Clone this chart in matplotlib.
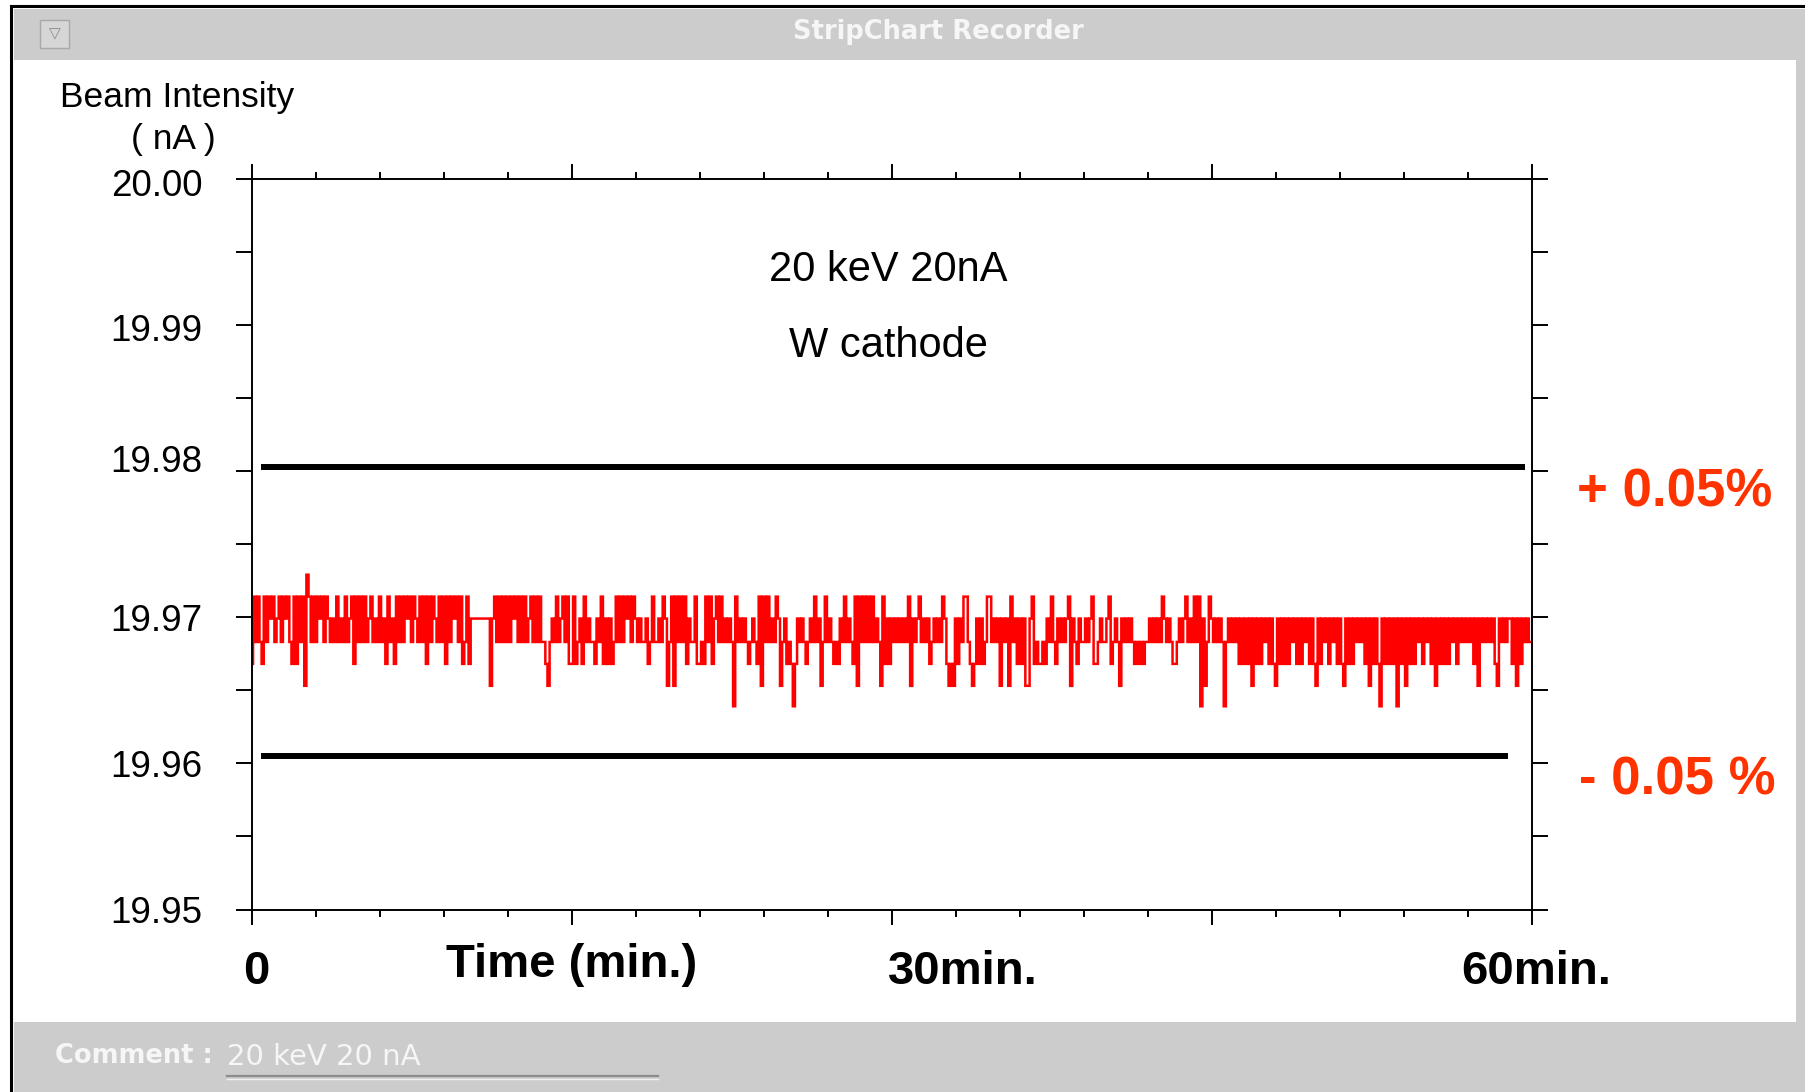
import numpy as np
import matplotlib
matplotlib.use("Agg")
import matplotlib.pyplot as plt
from matplotlib.patches import Rectangle
from matplotlib.lines import Line2D
from matplotlib.transforms import ScaledTranslation

plt.rcParams['font.family'] = ['Liberation Sans', 'DejaVu Sans']

# ---------------- data ----------------
Y_TICKS = [19.95, 19.96, 19.97, 19.98, 19.99, 20.00]
Y_TICK_LABELS = ['19.95', '19.96', '19.97', '19.98', '19.99', '20.00']
X_MAJOR = [0, 15, 30, 45, 60]
X_MINOR = [3, 6, 9, 12, 18, 21, 24, 27, 33, 36, 39, 42, 48, 51, 54, 57]
X_TEXT_LABELS = ['0', '30min.', '60min.']
X_TEXT_POS = [0.2, 33.3, 60.2]

# quantised ADC levels of the beam-intensity trace (nA)
LEVEL_NA = [19.9639, 19.9653, 19.9668, 19.9683, 19.9699, 19.9714, 19.9729]
# one code (index into LEVEL_NA) per 6-second sample, one string per minute
TRACE_CODES = [
    "2535325354", "5345354532", "5253516535", "3545354343", "5343534525",
    "3535345343", "5342534253", "5354535435", "3525354353", "5253545352",
    "3524444444", "4414535353", "5354535353", "4535353321", "3435345352",
    "2523425343", "3243524242", "3535354535", "4343342353", "3435413515",
    "3535243352", "2325352453", "5343430534", "3432343251", "5353435413",
    "4232024343", "2343534135", "3432324353", "4325153535", "3534315242",
    "4343434351", "4345343423", "4343542121", "4243553212", "4242355343",
    "4143415342", "4241145232", "2324353243", "4345143243", "3434522343",
    "3452343143", "4343232323", "3434343543", "4322343453", "4353504135",
    "4343430343", "4342424241", "4242434242", "1424242434", "2424342421",
    "4243424342", "4214242434", "3424142420", "4242424042", "4142424342",
    "4342414242", "4243424343", "4342414343", "4342143434", "4241424343",
]
TRACE_END_MIN = 59.9

# tolerance limit lines (+/-0.05 %)
LIMIT_NA = [19.9803, 19.9605]
LIMIT_START = [0.43, 0.43]
LIMIT_END = [59.68, 58.87]
LIMIT_LABELS = ['+ 0.05%', '- 0.05 %']

codes = [int(c) for c in "".join(TRACE_CODES)]
trace_vals = np.array([LEVEL_NA[c] for c in codes])
trace_t = np.linspace(0.0, TRACE_END_MIN, len(trace_vals))

# ---------------- figure ----------------
W, H = 1805, 1092
fig = plt.figure(figsize=(W / 100, H / 100), dpi=100)
fig.patch.set_facecolor('white')


def px_rect(x0, y0, x1, y1, **kw):
    r = Rectangle((x0 / W, 1 - y1 / H), (x1 - x0) / W, (y1 - y0) / H,
                  transform=fig.transFigure, **kw)
    fig.add_artist(r)
    return r


def px_line(x0, y0, x1, y1, **kw):
    ln = Line2D([x0 / W, x1 / W], [1 - y0 / H, 1 - y1 / H],
                transform=fig.transFigure, **kw)
    fig.add_artist(ln)
    return ln


# window chrome
px_rect(14, 9, W, 60, facecolor='#cccccc', edgecolor='none')          # title bar
px_rect(14, 1022, W, H, facecolor='#cccccc', edgecolor='none')         # comment bar
px_rect(1796, 60, W, 1022, facecolor='#cccccc', edgecolor='none')      # right edge
px_line(11, 6, W, 6, color='black', lw=2.2)
px_line(11, 6, 11, H, color='black', lw=2.2)
px_rect(40, 20, 69, 48, facecolor='#d6d6d6', edgecolor='#a8a8a8', lw=1.0)
fig.text(54.5 / W, 1 - 34 / H, '\u25BD', ha='center', va='center', size=11,
         color='#8a8a8a', family='DejaVu Sans')
fig.text(938 / W, 1 - 32 / H, 'StripChart Recorder', ha='center', va='center',
         size=18.5, weight='bold', color='#f6f6f6', family='DejaVu Sans')

fig.text(55 / W, 1 - 1056 / H, 'Comment :', ha='left', va='center', size=18.5,
         weight='bold', color='#f6f6f6', family='DejaVu Sans')
fig.text(227 / W, 1 - 1057 / H, '20 keV 20 nA', ha='left', va='center', size=21,
         color='#f6f6f6', family='DejaVu Sans')
px_line(227, 1076, 658, 1076, color='#8c8c8c', lw=1.6)
px_line(227, 1078.5, 658, 1078.5, color='#f0f0f0', lw=1.0)

# y-axis title
fig.text(60 / W, 1 - 97 / H, 'Beam Intensity', ha='left', va='center', size=25.5)
fig.text(173 / W, 1 - 140 / H, '( nA )', ha='center', va='center', size=25.5)

# ---------------- axes ----------------
ax = fig.add_axes([252 / W, 1 - 909.5 / H, (1532 - 252) / W, (909.5 - 178.5) / H])
ax.set_facecolor('white')
ax.set_xlim(0, 60)
ax.set_ylim(19.95, 20.00)

ax.plot(trace_t, trace_vals, drawstyle='steps-mid', color='#ff0000', lw=1.8,
        solid_joinstyle='miter')
for yv, x0, x1 in zip(LIMIT_NA, LIMIT_START, LIMIT_END):
    ax.plot([x0, x1], [yv, yv], color='black', lw=4.3, solid_capstyle='butt')

ax.set_xticks(X_MAJOR)
ax.set_xticks(X_MINOR, minor=True)
ax.set_yticks(Y_TICKS)
ax.set_yticklabels(Y_TICK_LABELS)
ax.set_yticks(np.arange(19.955, 20.0, 0.01), minor=True)

ax.tick_params(axis='x', which='major', direction='out', length=10.5, width=1.4,
               top=True, bottom=True, labelbottom=False, labeltop=False)
ax.tick_params(axis='x', which='minor', direction='out', length=5, width=1.4,
               top=True, bottom=True)
ax.tick_params(axis='y', which='both', direction='out', length=11.5, width=1.4,
               left=True, right=True, labelleft=True, labelright=False)
ax.tick_params(axis='y', which='major', labelsize=26.5, pad=24)
for sp in ax.spines.values():
    sp.set_linewidth(1.4)

# small per-label vertical offsets seen on the recorder screen
label_offsets_pt = {'19.98': 9, '20.00': -3, '19.99': -2}
for lab in ax.get_yticklabels():
    off = label_offsets_pt.get(lab.get_text(), 0)
    if off:
        lab.set_transform(lab.get_transform()
                          + ScaledTranslation(0, off / 72, fig.dpi_scale_trans))

tr = ax.get_xaxis_transform()
for lab, xp in zip(X_TEXT_LABELS, X_TEXT_POS):
    ax.text(xp, -0.086, lab, transform=tr, ha='center', va='center',
            size=34, weight='bold')
ax.text(15.0, -0.076, 'Time (min.)', transform=tr, ha='center', va='center',
        size=34, weight='bold')

ax.text(0.4973, 0.8755, '20 keV 20nA', transform=ax.transAxes, ha='center',
        va='center', size=30)
ax.text(0.4973, 0.7705, 'W cathode', transform=ax.transAxes, ha='center',
        va='center', size=30)

red_txt = '#ff3300'
ax.text(1.035, 0.5705, LIMIT_LABELS[0], transform=ax.transAxes, ha='left',
        va='center', size=38, weight='bold', color=red_txt)
ax.text(1.037, 0.1768, LIMIT_LABELS[1], transform=ax.transAxes, ha='left',
        va='center', size=38, weight='bold', color=red_txt)

fig.savefig('out.png', dpi=100, facecolor=fig.get_facecolor())
